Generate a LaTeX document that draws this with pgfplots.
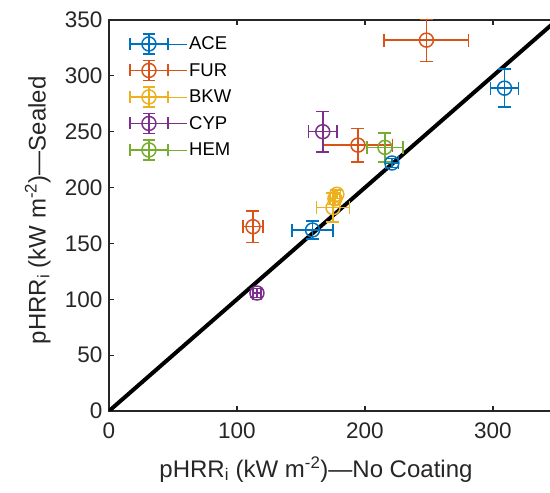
\documentclass[border=0pt]{standalone}
\usepackage{pgfplots}
\pgfplotsset{compat=1.18}
\usepackage{fontspec}
\setmainfont{Liberation Sans}
\definecolor{aceC}{rgb}{0,0.447,0.741}
\definecolor{furC}{rgb}{0.85,0.325,0.098}
\definecolor{bkwC}{rgb}{0.929,0.694,0.125}
\definecolor{cypC}{rgb}{0.494,0.184,0.556}
\definecolor{hemC}{rgb}{0.466,0.674,0.188}
\definecolor{axgray}{rgb}{0.15,0.15,0.15}

\pgfplotstableread{
x y ex ey
309 289 11 17
221 222 5 4
159 162 16 8
}\ace
\pgfplotstableread{
x y ex ey
248 332 33 19
194.5 238 27 15
112.5 165 8 14
}\fur
\pgfplotstableread{
x y ex ey
178 194 3 4
176.5 190 4 5
175 182 13 13
}\bkw
\pgfplotstableread{
x y ex ey
167 250 11 18
115.6 105.6 3 4
}\cyp
\pgfplotstableread{
x y ex ey
215.6 236 14 13
}\hem

\pgfplotsset{
  errleg/.style={legend image code/.code={
    \draw[#1,line width=1.5pt] (0pt,0pt) -- (38pt,0pt)
      (0pt,-6pt) -- (0pt,6pt) (38pt,-6pt) -- (38pt,6pt)
      (19pt,-10pt) -- (19pt,10pt) (13pt,-10pt) -- (25pt,-10pt) (13pt,10pt) -- (25pt,10pt);
    \draw[#1,line width=1.5pt] (19pt,0pt) circle (7pt);
    \path (0pt,0pt) -- (57pt,0pt);
  }},
  errplot/.style={only marks, color=#1, mark=o, mark size=7pt,
    mark options={line width=1.5pt, solid}, errleg=#1,
    error bars/.cd, x dir=both, x explicit, y dir=both, y explicit,
    error bar style={line width=1.5pt, color=#1},
    error mark options={rotate=90, mark size=6.5pt, line width=1.5pt, color=#1}},
}

\begin{document}
\begin{tikzpicture}
\begin{axis}[
  at={(0,0)}, anchor=south west,
  scale only axis, width=448pt, height=391pt,
  xmin=0, xmax=350, ymin=0, ymax=350,
  xtick={0,100,200,300}, ytick={0,50,...,350},
  tick align=inside, major tick length=5pt,
  axis line style={line width=1.2pt, color=axgray},
  every tick/.style={line width=1.2pt, color=axgray},
  /pgf/number format/assume math mode=true,
  ticklabel style={font=\fontsize{22.5}{26}\selectfont, color=axgray},
  xticklabel style={yshift=-8pt},
  yticklabel style={xshift=-3pt},
  label style={font=\fontsize{24}{28}\selectfont, color=axgray},
  xlabel={pHRR\textsubscript{i} (kW m\textsuperscript{-2})—No Coating},
  ylabel={pHRR\textsubscript{i} (kW m\textsuperscript{-2})—Sealed},
  xlabel style={at={(axis description cs:0.462,-0.149)}, anchor=center},
  ylabel style={at={(axis description cs:-0.159,0.513)}, anchor=center},
  legend style={at={(rel axis cs:0,1)}, anchor=north west, xshift=17pt, yshift=-11pt,
    draw=none, fill=none, font=\fontsize{18.5}{22}\selectfont, row sep=5pt,
    cells={anchor=west}},
  clip=true,
]
\addplot[black, line width=4pt, forget plot] coordinates {(0,0) (350,350)};
\addplot[errplot=aceC] table[x=x,y=y,x error=ex,y error=ey] {\ace};
\addlegendentry{ACE}
\addplot[errplot=furC] table[x=x,y=y,x error=ex,y error=ey] {\fur};
\addlegendentry{FUR}
\addplot[errplot=bkwC] table[x=x,y=y,x error=ex,y error=ey] {\bkw};
\addlegendentry{BKW}
\addplot[errplot=cypC] table[x=x,y=y,x error=ex,y error=ey] {\cyp};
\addlegendentry{CYP}
\addplot[errplot=hemC] table[x=x,y=y,x error=ex,y error=ey] {\hem};
\addlegendentry{HEM}
\end{axis}
\pgfresetboundingbox
\path[use as bounding box] (-109pt,-82pt) rectangle (441pt,411pt);
\end{tikzpicture}
\end{document}
